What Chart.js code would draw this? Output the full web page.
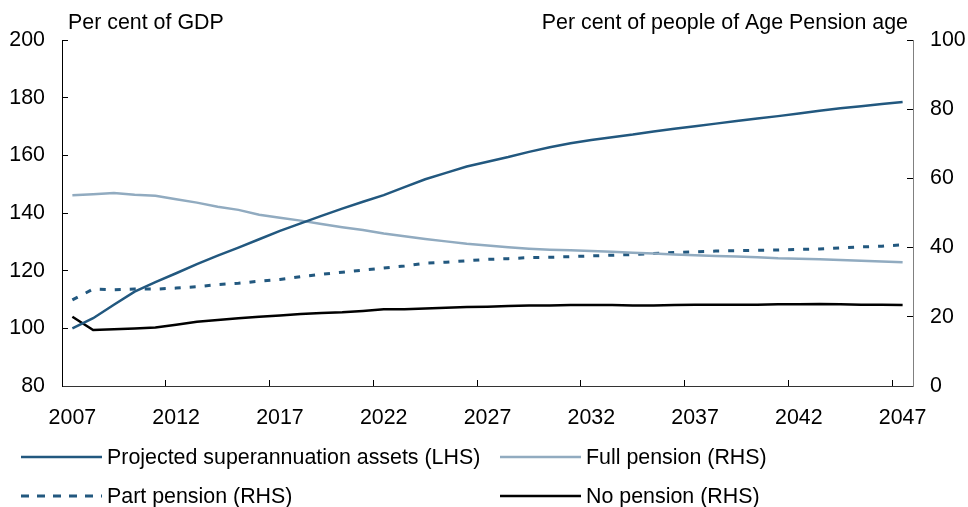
<!DOCTYPE html>
<html><head><meta charset="utf-8">
<script src="https://cdn.jsdelivr.net/npm/chart.js@4/dist/chart.umd.min.js"></script>
<style>
html,body{margin:0;padding:0;background:#fff;}
#wrap{position:relative;width:968px;height:507px;overflow:hidden;}
#c{position:absolute;left:0;top:0;}
#legend{position:absolute;left:0;top:0;width:968px;height:507px;pointer-events:none;font-family:"Liberation Sans",Arial,sans-serif;font-size:21.4px;color:#000;}
.item{position:absolute;height:24px;line-height:24px;display:flex;align-items:center;white-space:nowrap;}
.item svg{display:block;margin-right:5px;}
</style></head><body>
<div id="wrap"><canvas id="c" width="968" height="507"></canvas><div id="legend"></div></div>
<script>
const years = ['2007','2008','2009','2010','2011','2012','2013','2014','2015','2016','2017','2018','2019','2020','2021','2022','2023','2024','2025','2026','2027','2028','2029','2030','2031','2032','2033','2034','2035','2036','2037','2038','2039','2040','2041','2042','2043','2044','2045','2046','2047'];
const xTickLabels = ['2007','2012','2017','2022','2027','2032','2037','2042','2047'];

const superAssets = [100.0,103.5,108.2,112.7,116.0,119.1,122.3,125.2,128.0,130.9,133.8,136.4,139.0,141.5,143.9,146.2,149.0,151.7,153.9,156.1,157.8,159.4,161.2,162.8,164.2,165.3,166.3,167.2,168.3,169.2,170.1,171.0,171.9,172.8,173.6,174.5,175.5,176.3,177.0,177.8,178.5];
const fullPension = [55.1,55.4,55.8,55.3,55.0,54.0,53.0,51.8,50.9,49.5,48.6,47.8,46.8,45.9,45.1,44.1,43.3,42.5,41.8,41.1,40.6,40.1,39.7,39.4,39.2,39.0,38.8,38.5,38.3,38.0,37.8,37.6,37.4,37.2,36.9,36.8,36.6,36.4,36.2,36.0,35.8];
const partPension = [24.9,28.0,27.8,28.0,28.0,28.3,28.7,29.3,29.7,30.3,30.8,31.6,32.3,32.9,33.5,34.1,34.7,35.5,35.8,36.2,36.6,36.8,37.1,37.2,37.4,37.6,37.8,38.0,38.3,38.6,38.8,39.0,39.1,39.2,39.3,39.5,39.6,39.9,40.2,40.4,40.8];
const noPension = [20.0,16.2,16.4,16.6,16.9,17.7,18.6,19.1,19.6,20.0,20.4,20.8,21.1,21.3,21.7,22.2,22.2,22.4,22.6,22.8,22.9,23.1,23.3,23.3,23.4,23.4,23.4,23.3,23.3,23.4,23.5,23.5,23.5,23.5,23.6,23.6,23.7,23.6,23.5,23.5,23.4];

const seriesNames = ['Projected superannuation assets (LHS)','Full pension (RHS)','Part pension (RHS)','No pension (RHS)'];
const leftCaption = 'Per cent of GDP';
const rightCaption = 'Per cent of people of Age Pension age';

const DARK = '#22587f';
const LIGHT = '#91abc0';
const FONT = {family:'"Liberation Sans", Arial, sans-serif', size:21.4};

const captionPlugin = {
  id:'captions',
  afterDraw(chart){
    const {ctx, chartArea} = chart;
    ctx.save();
    ctx.font = '21.4px "Liberation Sans", Arial, sans-serif';
    ctx.fillStyle = '#000';
    ctx.textBaseline = 'alphabetic';
    ctx.textAlign = 'left';
    ctx.fillText(leftCaption, chartArea.left + 6, 29);
    ctx.textAlign = 'right';
    ctx.fillText(rightCaption, chartArea.right - 5, 29);
    ctx.restore();
  }
};

const chart = new Chart(document.getElementById('c'), {
  type:'line',
  data:{
    labels: years,
    datasets:[
      {label:seriesNames[0], data:superAssets, yAxisID:'y', borderColor:DARK, borderWidth:2.5, pointRadius:0, tension:0},
      {label:seriesNames[1], data:fullPension, yAxisID:'y1', borderColor:LIGHT, borderWidth:2.5, pointRadius:0, tension:0},
      {label:seriesNames[2], data:partPension, yAxisID:'y1', borderColor:DARK, borderWidth:3, borderDash:[6,9], pointRadius:0, tension:0},
      {label:seriesNames[3], data:noPension, yAxisID:'y1', borderColor:'#000', borderWidth:2.5, pointRadius:0, tension:0}
    ]
  },
  options:{
    responsive:false,
    animation:false,
    devicePixelRatio:1,
    layout:{padding:{top:40,bottom:70,left:0,right:0}},
    plugins:{legend:{display:false}, tooltip:{enabled:false}},
    scales:{
      x:{
        type:'category',
        offset:true,
        grid:{offset:true, drawOnChartArea:false, drawTicks:true, tickLength:-6,
          color:(c)=> (c.index !== undefined && c.index > 0 && xTickLabels.includes(years[c.index])) ? '#000' : 'rgba(0,0,0,0)'},
        border:{display:true, color:'#333', width:1},
        ticks:{autoSkip:false, maxRotation:0, minRotation:0, padding:25, color:'#000', font:FONT,
          callback:(v,i)=> xTickLabels.includes(years[i]) ? years[i] : ''},
        afterFit:(s)=>{ s.height = 51; }
      },
      y:{
        position:'left', min:80, max:200,
        ticks:{stepSize:20, padding:23, color:'#000', font:FONT},
        grid:{drawOnChartArea:false, tickLength:-6, color:'#000'},
        border:{display:true, color:'#000', width:1},
        afterFit:(s)=>{ s.width = 62; }
      },
      y1:{
        position:'right', min:0, max:100,
        ticks:{stepSize:20, padding:23, color:'#000', font:FONT},
        grid:{drawOnChartArea:false, tickLength:-6, color:'#000'},
        border:{display:true, color:'#808080', width:1},
        afterFit:(s)=>{ s.width = 55; }
      }
    }
  },
  plugins:[captionPlugin]
});

// HTML legend built from the chart's datasets
const legendPos = [{x:21,y:457},{x:500,y:457},{x:21,y:496},{x:500,y:496}];
const legendEl = document.getElementById('legend');
chart.data.datasets.forEach((ds, i) => {
  const p = legendPos[i];
  const item = document.createElement('div');
  item.className = 'item';
  item.style.left = p.x + 'px';
  item.style.top = (p.y - 12) + 'px';
  const dash = ds.borderDash ? 'stroke-dasharray="8 8"' : '';
  item.innerHTML = '<svg width="81" height="6"><line x1="0" y1="3" x2="81" y2="3" stroke="' + ds.borderColor + '" stroke-width="' + (ds.borderDash ? 3 : 2.5) + '" ' + dash + '/></svg>';
  const span = document.createElement('span');
  span.textContent = ds.label;
  item.appendChild(span);
  legendEl.appendChild(item);
});
</script>
</body></html>
